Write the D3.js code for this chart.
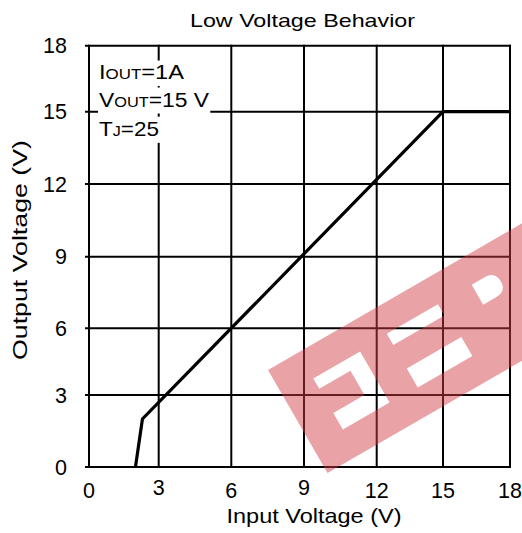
<!DOCTYPE html>
<html>
<head>
<meta charset="utf-8">
<script src="https://cdn.jsdelivr.net/npm/d3@7.9.0/dist/d3.min.js"></script>
<style>
  body { margin: 0; background: #fff; }
  svg text { font-family: "Liberation Sans", Arial, sans-serif; fill: #000; }
</style>
</head>
<body>
<svg id="chart" width="522" height="533"></svg>
<script>
// chart values
const xTicks = [0, 3, 6, 9, 12, 15, 18];
const yTicks = [0, 3, 6, 9, 12, 15, 18];
const inputVoltage = [2.0, 2.3, 15, 18];
const outputVoltage = [0, 2.0, 15, 15];
const noteLines = [
  [{ t: "I" }, { t: "OUT", small: true }, { t: "=1A" }],
  [{ t: "V" }, { t: "OUT", small: true }, { t: "=15 V" }],
  [{ t: "T" }, { t: "J", small: true }, { t: "=25" }]
];
const title = "Low Voltage Behavior";
const xTitle = "Input Voltage (V)";
const yTitle = "Output Voltage (V)";

// the original grid is slightly uneven, so the scales are piecewise
const xPix = [89, 158.7, 231.3, 304, 376.7, 443, 510];
const yPix = [467, 395, 328.3, 256.7, 184, 111.7, 45.7];
const x = d3.scaleLinear().domain(xTicks).range(xPix);
const y = d3.scaleLinear().domain(yTicks).range(yPix);

const svg = d3.select("#chart");

// grid + frame
const grid = svg.append("g").attr("stroke", "#000").attr("stroke-width", 2);
xTicks.forEach(v => {
  grid.append("line")
    .attr("x1", x(v)).attr("x2", x(v))
    .attr("y1", y(0) + 1).attr("y2", y(18) - 1);
});
yTicks.forEach(v => {
  grid.append("line")
    .attr("x1", x(0) - 4).attr("x2", x(18) + 1)
    .attr("y1", y(v)).attr("y2", y(v));
});

// data curve
const line = d3.line()
  .x((d, i) => x(inputVoltage[i]))
  .y((d, i) => y(outputVoltage[i]));
svg.append("path")
  .attr("d", line(inputVoltage))
  .attr("fill", "none")
  .attr("stroke", "#000")
  .attr("stroke-width", 3.2)
  .attr("stroke-linejoin", "miter");

// condition note, each line on a white patch
const noteBase = [79.3, 106.7, 136];
const noteWidth = [85, 110, 60];
const noteG = svg.append("g");
noteLines.forEach((parts, i) => {
  const bg = noteG.append("rect").attr("fill", "#fff");
  const t = noteG.append("text")
    .attr("x", 99).attr("y", noteBase[i])
    .attr("font-size", 21);
  parts.forEach(p => {
    t.append("tspan").attr("font-size", p.small ? 15 : 21).text(p.t);
  });
  const w0 = t.node().getComputedTextLength();
  t.attr("transform", `translate(99,0) scale(${noteWidth[i] / w0},1) translate(-99,0)`);
  const b = t.node().getBBox();
  const sx = noteWidth[i] / w0;
  bg.attr("x", 99 + (b.x - 99) * sx - 1)
    .attr("y", b.y)
    .attr("width", b.width * sx + 2)
    .attr("height", b.height + 2);
});

// tick labels
svg.append("g").selectAll("text")
  .data(xTicks)
  .join("text")
  .attr("x", d => x(d))
  .attr("y", d => (d === 3 || d === 9) ? 495 : 498)
  .attr("text-anchor", "middle")
  .attr("font-size", 21.5)
  .text(d => d);

svg.append("g").selectAll("text")
  .data(yTicks)
  .join("text")
  .attr("x", 67)
  .attr("y", d => y(d) + 7.5)
  .attr("text-anchor", "end")
  .attr("font-size", 21.5)
  .text(d => d);

// titles
svg.append("text")
  .attr("x", 302.5).attr("y", 27)
  .attr("text-anchor", "middle")
  .attr("font-size", 19)
  .attr("textLength", 225)
  .attr("lengthAdjust", "spacingAndGlyphs")
  .text(title);

svg.append("text")
  .attr("x", 314).attr("y", 523)
  .attr("text-anchor", "middle")
  .attr("font-size", 21)
  .attr("textLength", 175)
  .attr("lengthAdjust", "spacingAndGlyphs")
  .text(xTitle);

svg.append("text")
  .attr("transform", "translate(27,250) rotate(-90)")
  .attr("text-anchor", "middle")
  .attr("font-size", 21)
  .attr("textLength", 220)
  .attr("lengthAdjust", "spacingAndGlyphs")
  .text(yTitle);

// watermark stamp (band with letter cut-outs)
const stamp = [
  "M0,0 H420 V119 H0 Z",
  "M35,30 H89 V89 H35 V70 H71 V42 H35 Z",
  "M121,28 H180 V41 H121 Z",
  "M121,68 H184 V90 H121 Z",
  "M219,28 H234 Q246,28 246,40 Q246,51 234,51 H219 Z"
].join(" ");
svg.append("path")
  .attr("transform", "translate(268,370) rotate(-30)")
  .attr("d", stamp)
  .attr("fill-rule", "evenodd")
  .attr("fill", "rgb(208,63,72)")
  .attr("opacity", 0.48);
</script>
</body>
</html>
